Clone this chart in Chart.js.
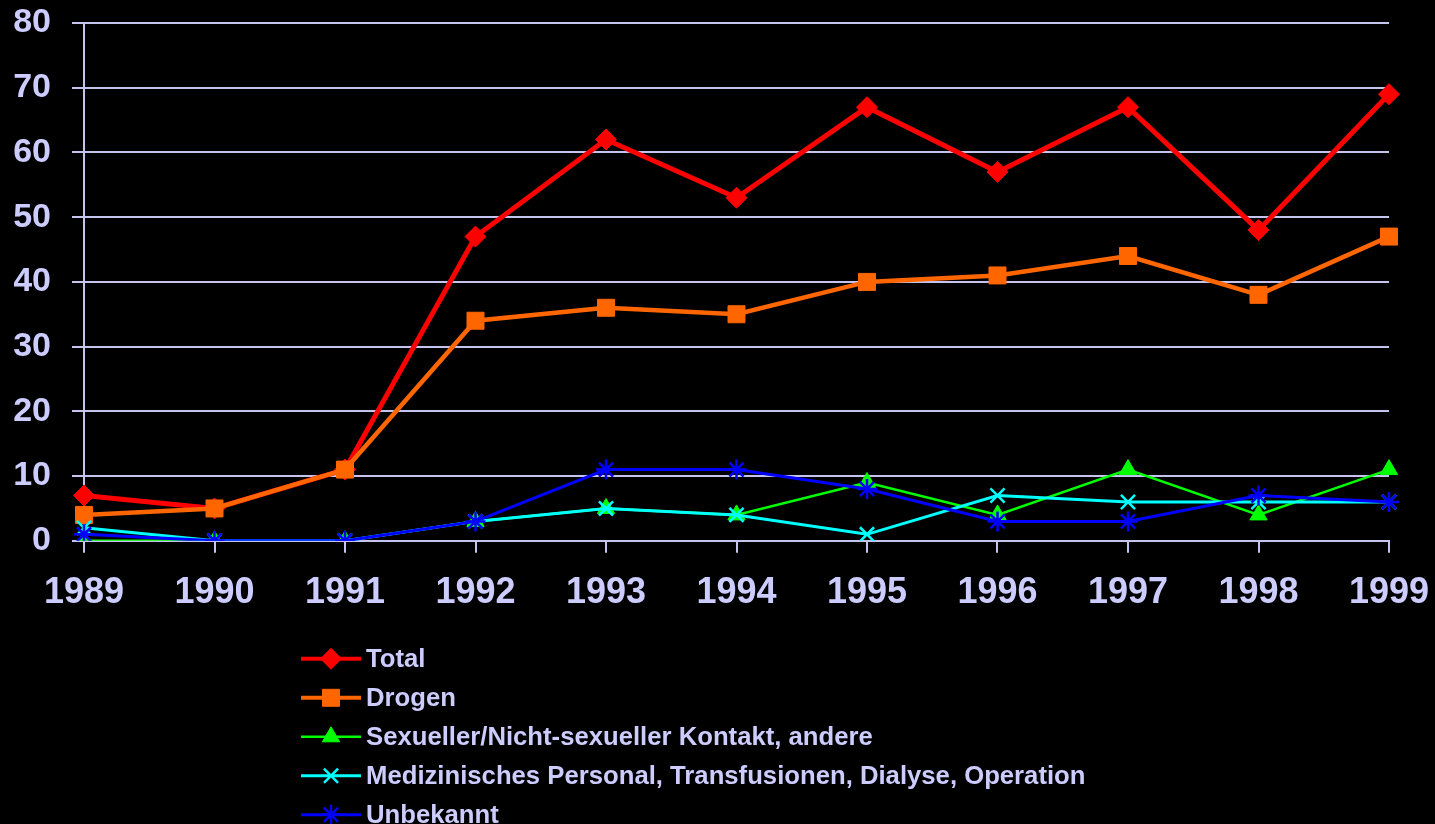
<!DOCTYPE html>
<html>
<head>
<meta charset="utf-8">
<script src="https://cdn.jsdelivr.net/npm/chart.js@4/dist/chart.umd.min.js"></script>
<style>
html,body{margin:0;padding:0;background:#000;}
#wrap{width:1435px;height:824px;position:relative;}
</style>
</head>
<body>
<div id="wrap"><canvas id="c" width="1435" height="824"></canvas></div>
<script>
const years = ['1989','1990','1991','1992','1993','1994','1995','1996','1997','1998','1999'];
const total = [7, 5, 11, 47, 62, 53, 67, 57, 67, 48, 69];
const drogen = [4, 5, 11, 34, 36, 35, 40, 41, 44, 38, 47];
const sexuell = [0, 0, 0, 3, 5, 4, 9, 4, 11, 4, 11];
const medizin = [2, 0, 0, 3, 5, 4, 1, 7, 6, 6, 6];
const unbekannt = [1, 0, 0, 3, 11, 11, 8, 3, 3, 7, 6];
const seriesNames = ['Total', 'Drogen', 'Sexueller/Nicht-sexueller Kontakt, andere', 'Medizinisches Personal, Transfusionen, Dialyse, Operation', 'Unbekannt'];

const TXT = '#ccccff';
const GRID = '#c4c4ee';
const FONT = '"Liberation Sans", Arial, sans-serif';

const legendPlugin = {
  id: 'vertLegend',
  afterDraw(chart) {
    const ctx = chart.ctx;
    const ds = chart.data.datasets;
    const x0 = 301, lineLen = 60, textX = 366;
    const startY = chart.chartArea.bottom + 118;
    const step = 39;
    ctx.save();
    ds.forEach((d, i) => {
      const y = startY + i * step;
      ctx.strokeStyle = d.borderColor;
      ctx.lineWidth = Math.min(d.borderWidth, 4);
      ctx.beginPath();
      ctx.moveTo(x0, y);
      ctx.lineTo(x0 + lineLen, y);
      ctx.stroke();
      ctx.fillStyle = d.pointBackgroundColor;
      ctx.strokeStyle = d.pointBorderColor;
      ctx.lineWidth = d.pointBorderWidth;
      Chart.helpers.drawPoint(ctx, {pointStyle: d.pointStyle, radius: d.pointRadius, borderWidth: d.pointBorderWidth, rotation: 0}, x0 + lineLen / 2, y);
      ctx.fillStyle = TXT;
      ctx.font = 'bold 25.7px ' + FONT;
      ctx.textBaseline = 'middle';
      ctx.textAlign = 'left';
      ctx.fillText(d.label, textX, y + 1);
    });
    ctx.restore();
  }
};

const bgPlugin = {
  id: 'bg',
  beforeDraw(chart) {
    const ctx = chart.ctx;
    ctx.save();
    ctx.fillStyle = '#000';
    ctx.fillRect(0, 0, chart.width, chart.height);
    ctx.restore();
  }
};

new Chart(document.getElementById('c'), {
  type: 'line',
  data: {
    labels: years,
    datasets: [
      {label: seriesNames[0], data: total, borderColor: '#ff0000', backgroundColor: '#ff0000', borderWidth: 5,
       pointStyle: 'rectRot', pointRadius: 10.5, pointBackgroundColor: '#ff0000', pointBorderColor: '#ff0000', pointBorderWidth: 1, order: 5},
      {label: seriesNames[1], data: drogen, borderColor: '#ff6600', backgroundColor: '#ff6600', borderWidth: 4.5,
       pointStyle: 'rect', pointRadius: 12, pointBackgroundColor: '#ff6600', pointBorderColor: '#ff6600', pointBorderWidth: 1, order: 4},
      {label: seriesNames[2], data: sexuell, borderColor: '#00ff00', backgroundColor: '#00ff00', borderWidth: 2.5,
       pointStyle: 'triangle', pointRadius: 10, pointBackgroundColor: '#00ff00', pointBorderColor: '#00ff00', pointBorderWidth: 1, order: 3},
      {label: seriesNames[3], data: medizin, borderColor: '#00ffff', backgroundColor: '#00ffff', borderWidth: 3,
       pointStyle: 'crossRot', pointRadius: 10, pointBackgroundColor: '#00ffff', pointBorderColor: '#00ffff', pointBorderWidth: 2.5, order: 2},
      {label: seriesNames[4], data: unbekannt, borderColor: '#0000ff', backgroundColor: '#0000ff', borderWidth: 3,
       pointStyle: 'star', pointRadius: 10, pointBackgroundColor: '#0000ff', pointBorderColor: '#0000ff', pointBorderWidth: 2.5, order: 1}
    ]
  },
  options: {
    responsive: false,
    animation: false,
    devicePixelRatio: 1,
    layout: {padding: {left: 14, right: 46, top: 23, bottom: 190}},
    plugins: {
      legend: {display: false},
      tooltip: {enabled: false}
    },
    elements: {line: {tension: 0}},
    scales: {
      x: {
        offset: false,
        afterFit(scale) { scale.paddingLeft = 0; scale.paddingRight = 0; },
        grid: {display: true, drawOnChartArea: false, color: GRID, lineWidth: 2, tickLength: 12},
        border: {display: true, color: GRID, width: 2},
        ticks: {color: TXT, font: {family: FONT, size: 36, weight: 'bold'}, padding: 19, maxRotation: 0, autoSkip: false}
      },
      y: {
        min: 0, max: 80,
        afterFit(scale) { scale.paddingTop = 0; scale.paddingBottom = 0; scale.width = 70; },
        grid: {color: GRID, lineWidth: 2, tickLength: 12},
        border: {display: true, color: GRID, width: 2},
        ticks: {stepSize: 10, color: TXT, font: {family: FONT, size: 34, weight: 'bold'}, padding: 21}
      }
    }
  },
  plugins: [bgPlugin, legendPlugin]
});
</script>
</body>
</html>
